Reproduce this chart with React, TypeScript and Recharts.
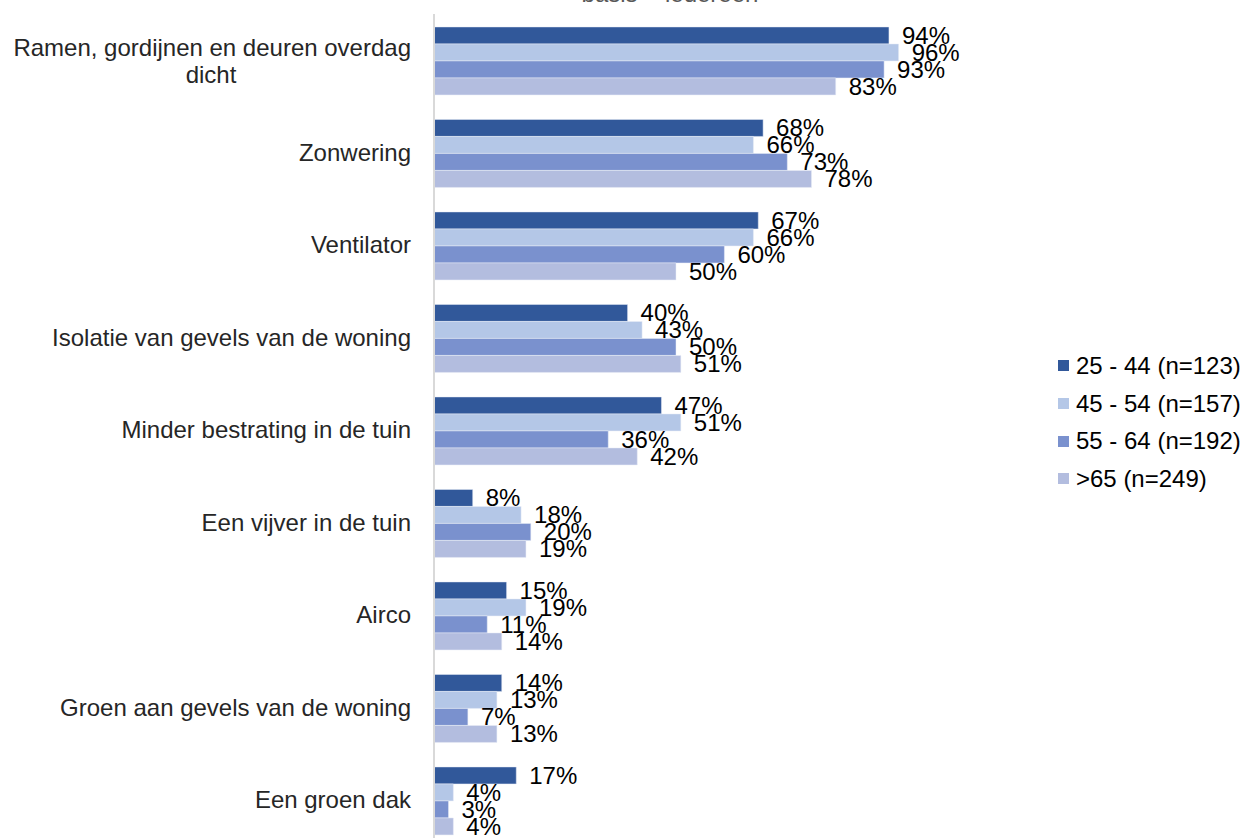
import React from "react";
import { BarChart, Bar, XAxis, YAxis, LabelList } from "recharts";

const categories: string[][] = [
  ["Ramen, gordijnen en deuren overdag", "dicht"],
  ["Zonwering"],
  ["Ventilator"],
  ["Isolatie van gevels van de woning"],
  ["Minder bestrating in de tuin"],
  ["Een vijver in de tuin"],
  ["Airco"],
  ["Groen aan gevels van de woning"],
  ["Een groen dak"],
];

const s2544 = [94, 68, 67, 40, 47, 8, 15, 14, 17];
const s4554 = [96, 66, 66, 43, 51, 18, 19, 13, 4];
const s5564 = [93, 73, 60, 50, 36, 20, 11, 7, 3];
const s65 = [83, 78, 50, 51, 42, 19, 14, 13, 4];

const seriesNames = ["25 - 44 (n=123)", "45 - 54 (n=157)", "55 - 64 (n=192)", ">65 (n=249)"];
const seriesKeys = ["a", "b", "c", "d"];
const colors = ["#31589A", "#B4C7E7", "#7A91CE", "#B3BDDF"];
const title = "basis = iedereen";

const data = categories.map((c, i) => ({
  name: c.join(" "),
  a: s2544[i],
  b: s4554[i],
  c: s5564[i],
  d: s65[i],
}));

const FONT = "'Liberation Sans', Arial, sans-serif";
const FS = 24;

const CatTick = (props: any) => {
  const { x, y, index } = props;
  const lines = categories[index] || [];
  if (lines.length === 1) {
    return (
      <text x={x} y={y} dy={8} textAnchor="end" fontSize={FS} fill="#262626" fontFamily={FONT}>
        {lines[0]}
      </text>
    );
  }
  return (
    <g>
      <text x={x} y={y} dy={-4.5} textAnchor="end" fontSize={FS} fill="#262626" fontFamily={FONT}>
        {lines[0]}
      </text>
      <text x={x - 200} y={y} dy={22.5} textAnchor="middle" fontSize={FS} fill="#262626" fontFamily={FONT}>
        {lines[1]}
      </text>
    </g>
  );
};

const LegendBox = () => (
  <div style={{ position: "absolute", left: 1058, top: 347, fontFamily: FONT, fontSize: FS, color: "#000", whiteSpace: "nowrap" }}>
    {seriesNames.map((n, i) => (
      <div key={n} style={{ display: "flex", alignItems: "center", height: 37.7 }}>
        <span style={{ display: "inline-block", width: 11, height: 11, background: colors[i], marginRight: 7 }} />
        <span>{n}</span>
      </div>
    ))}
  </div>
);

export default function App() {
  return (
    <div style={{ position: "absolute", left: 0, top: 0, width: 1243, height: 838, overflow: "hidden", background: "#fff" }}>
      <BarChart
        width={1243}
        height={860}
        data={data}
        layout="vertical"
        margin={{ top: 14, right: 325, bottom: 13.5, left: 0 }}
        barCategoryGap="14%"
        barGap={0}
      >
        <text x={670} y={2} textAnchor="middle" fontSize={FS} fill="#595959" fontFamily={FONT}>
          {title}
        </text>
        <XAxis type="number" domain={[0, 100]} hide />
        <YAxis
          type="category"
          dataKey="name"
          width={434}
          axisLine={{ stroke: "#D9D9D9", strokeWidth: 2 }}
          tickLine={false}
          tick={<CatTick />}
          tickMargin={17}
          interval={0}
        />
        {seriesKeys.map((k, i) => (
          <Bar key={k} dataKey={k} name={seriesNames[i]} fill={colors[i]} stroke="#E8ECF6" strokeWidth={0.5} isAnimationActive={false}>
            <LabelList
              dataKey={k}
              position="right"
              offset={13}
              formatter={(v: any) => `${v}%`}
              style={{ fontSize: FS, fill: "#000", fontFamily: FONT }}
            />
          </Bar>
        ))}
      </BarChart>
      <LegendBox />
    </div>
  );
}
